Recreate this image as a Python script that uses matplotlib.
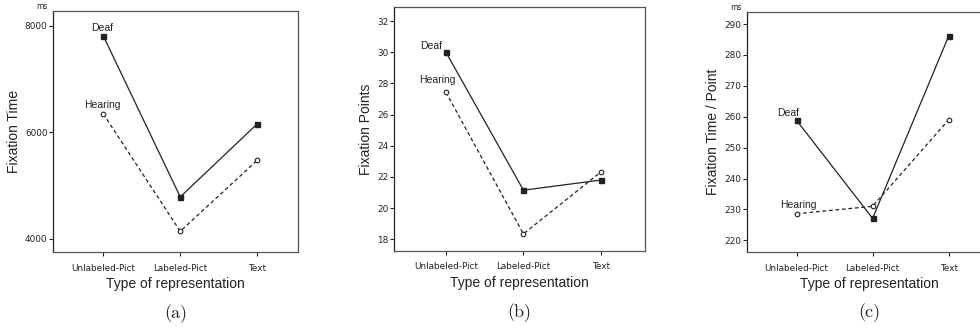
import matplotlib
matplotlib.use("Agg")
import matplotlib.pyplot as plt

# data
categories = ["Unlabeled-Pict", "Labeled-Pict", "Text"]

time_deaf = [7807, 4789, 6157]
time_hearing = [6345, 4144, 5475]

points_deaf = [30.0, 21.15, 21.8]
points_hearing = [27.43, 18.35, 22.32]

tpp_deaf = [258.8, 227.1, 286.1]
tpp_hearing = [228.6, 231.0, 259.0]

narrow = ["Liberation Sans Narrow", "DejaVu Sans"]
sans = ["Liberation Sans", "DejaVu Sans"]
serif = ["cmr10", "DejaVu Serif"]
ink = "#222222"

fig = plt.figure(figsize=(9.8, 3.28), dpi=100)

panels = [
    dict(rect=[0.0541, 0.2317, 0.250, 0.735], deaf=time_deaf, hearing=time_hearing,
         ylim=(3756, 8275), yticks=[4000, 6000, 8000], xlim=(-0.653, 2.53),
         ylabel="Fixation Time", unit="ms", tag="(a)",
         deaf_off=(-1, 2), hear_off=(-1, 3)),
    dict(rect=[0.4023, 0.2357, 0.2558, 0.742], deaf=points_deaf, hearing=points_hearing,
         ylim=(17.27, 32.88), yticks=[18, 20, 22, 24, 26, 28, 30, 32], xlim=(-0.667, 2.568),
         ylabel="Fixation Points", unit=None, tag="(b)",
         deaf_off=(-11, 1), hear_off=(-6, 5)),
    dict(rect=[0.7619, 0.2326, 0.2503, 0.7317], deaf=tpp_deaf, hearing=tpp_hearing,
         ylim=(216.3, 294.0), yticks=[220, 230, 240, 250, 260, 270, 280, 290], xlim=(-0.657, 2.57),
         ylabel="Fixation Time / Point", unit="ms", tag="(c)",
         deaf_off=(-6, 2), hear_off=(1, 3)),
]

x = list(range(len(categories)))

for p in panels:
    ax = fig.add_axes(p["rect"])
    ax.plot(x, p["deaf"], color=ink, lw=0.9, ls="-", marker="s", ms=3.6,
            mfc=ink, mec=ink, zorder=3)
    ax.plot(x, p["hearing"], color=ink, lw=0.9, ls=(0, (3, 2.2)), marker="o", ms=3.3,
            mfc="white", mec=ink, mew=0.8, zorder=3)

    ax.annotate("Deaf", (x[0], p["deaf"][0]), xytext=p["deaf_off"], textcoords="offset points",
                ha="center", va="bottom", fontsize=7.5, family=sans, color=ink)
    ax.annotate("Hearing", (x[0], p["hearing"][0]), xytext=p["hear_off"], textcoords="offset points",
                ha="center", va="bottom", fontsize=7.5, family=sans, color=ink)

    ax.set_xlim(*p["xlim"])
    ax.set_ylim(*p["ylim"])
    ax.set_xticks(x)
    ax.set_xticklabels(categories, fontsize=6.4, family=narrow, color=ink)
    ax.set_yticks(p["yticks"])
    ax.set_yticklabels([str(v) for v in p["yticks"]], fontsize=6.4, family=narrow, color=ink)
    ax.tick_params(axis="x", length=3, width=0.8, pad=5.5, color=ink)
    ax.tick_params(axis="y", length=3, width=0.8, pad=1, color=ink)
    for name, sp in ax.spines.items():
        sp.set_linewidth(0.9)
        sp.set_color("#555555" if name in ("top", "right", "bottom") else ink)

    ax.set_xlabel("Type of representation", fontsize=10, family=sans, color=ink, labelpad=3)
    ax.set_ylabel(p["ylabel"], fontsize=10, family=sans, color=ink, labelpad=3)

    if p["unit"]:
        ax.text(-0.02, 1.0, p["unit"], transform=ax.transAxes, ha="right", va="bottom",
                fontsize=5.5, family=narrow, color=ink)

    ax.text(0.5, -0.215, p["tag"], transform=ax.transAxes, ha="center", va="top",
            fontsize=13, family=serif, color=ink)

fig.savefig("out.png", dpi=100)
